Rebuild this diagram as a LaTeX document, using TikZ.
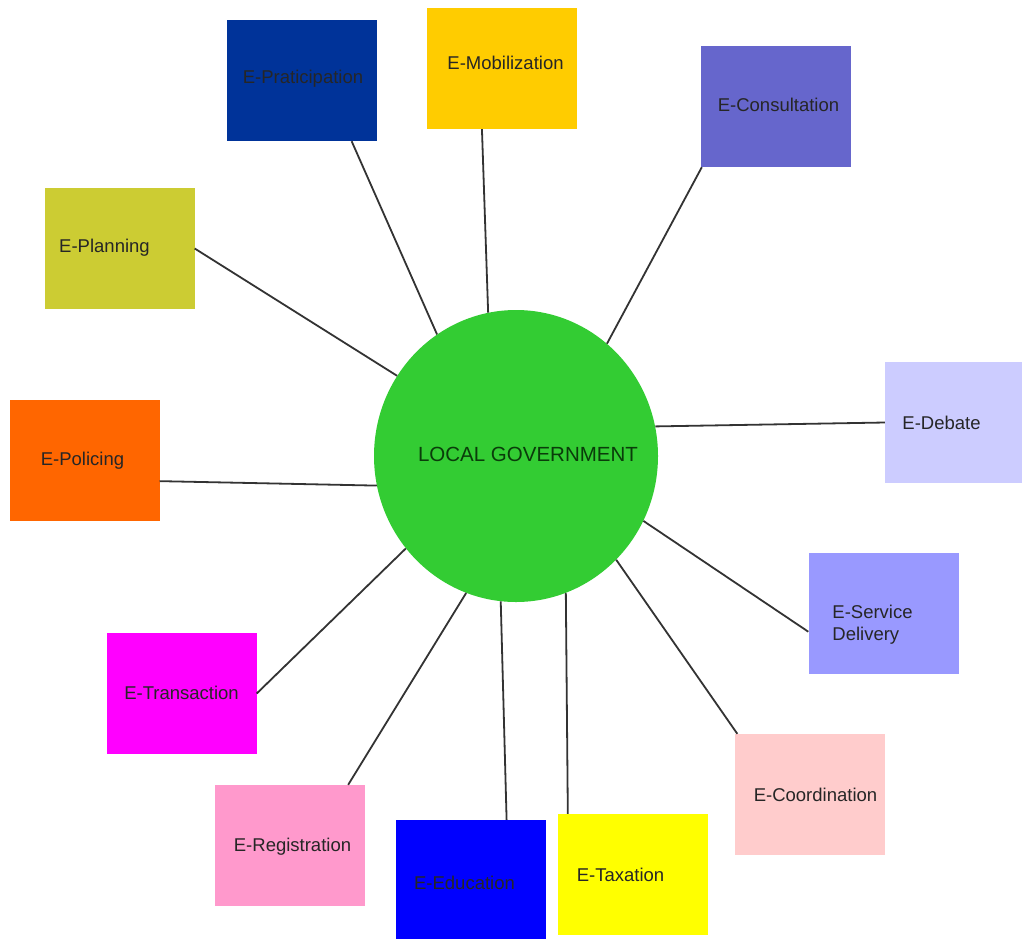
\documentclass[tikz,border=0pt]{standalone}
\usepackage{fontspec}
\setmainfont{Liberation Sans}
\usetikzlibrary{shapes.geometric,calc}
\begin{document}
\begin{tikzpicture}[x=1pt,y=-1pt,
  ebox/.style={rectangle,minimum width=150pt,minimum height=121pt,inner sep=0pt,draw=none},
  etext/.style={font=\fontsize{18.5}{21}\selectfont,text=black!85},
  conn/.style={draw=black!80,line width=1.8pt}]
\useasboundingbox (0,0) rectangle (1022,938);
\fill[white] (0,0) rectangle (1022,938);
% centre
\node[ellipse,fill={rgb,255:red,51;green,204;blue,51},minimum width=284pt,minimum height=292pt,inner sep=0pt,
  label={[etext,font=\fontsize{20.5}{23}\selectfont,text={rgb,255:red,10;green,60;blue,10},shift={(12,-2)}]center:LOCAL GOVERNMENT}] (c) at (516,456) {};
% boxes
\node[ebox,fill={rgb,255:red,0;green,51;blue,153},label={[etext,shift={(1,-2)}]center:E-Praticipation}] (par) at (302,80.5) {};
\node[ebox,fill={rgb,255:red,255;green,204;blue,0},label={[etext,shift={(4,-6)}]center:E-Mobilization}] (mob) at (501.5,68.5) {};
\node[ebox,fill={rgb,255:red,102;green,102;blue,204},label={[etext,shift={(3,-2)}]center:E-Consultation}] (con) at (775.5,106.5) {};
\node[ebox,fill={rgb,255:red,204;green,204;blue,51},label={[etext,shift={(-15,-1)}]center:E-Planning}] (pla) at (119.5,248.5) {};
\node[ebox,fill={rgb,255:red,255;green,102;blue,0},label={[etext,shift={(-2,0)}]center:E-Policing}] (pol) at (84.5,460.5) {};
\node[ebox,minimum width=137pt,fill={rgb,255:red,204;green,204;blue,255},label={[etext,shift={(-12,0)}]center:E-Debate}] (deb) at (953.5,422.5) {};
\node[ebox,fill={rgb,255:red,153;green,153;blue,255},label={[etext,align=left,shift={(-11,11)},font=\fontsize{18.5}{22}\selectfont]center:E-Service\\Delivery}] (ser) at (883.5,613.5) {};
\node[ebox,fill={rgb,255:red,255;green,204;blue,204},label={[etext,shift={(6,0)}]center:E-Coordination}] (coo) at (809.5,794.5) {};
\node[ebox,fill={rgb,255:red,255;green,255;blue,0},label={[etext,shift={(-12,0)}]center:E-Taxation}] (tax) at (632.5,874.5) {};
\node[ebox,fill={rgb,255:red,0;green,0;blue,255},label={[etext,shift={(-6,2)}]center:E-Education}] (edu) at (470.5,880.5) {};
\node[ebox,fill={rgb,255:red,255;green,153;blue,204},label={[etext,shift={(3,1)}]center:E-Registration}] (reg) at (289.5,845.5) {};
\node[ebox,fill={rgb,255:red,255;green,0;blue,255},label={[etext,shift={(0,-1)}]center:E-Transaction}] (tra) at (181.5,693.5) {};
% connectors
\draw[conn] ($(par.south west)!0.83!(par.south east)$) -- (c.123);
\draw[conn] ($(mob.south west)!0.37!(mob.south east)$) -- (c.101);
\draw[conn] ($(con.south west)!0.01!(con.south east)$) -- (c.51);
\draw[conn] (pla.east) -- (c.146);
\draw[conn] ($(pol.north east)!0.67!(pol.south east)$) -- (c.192);
\draw[conn] (deb.west) -- (c.12);
\draw[conn] ($(ser.north west)!0.65!(ser.south west)$) -- (c.-27);
\draw[conn] ($(coo.north west)!0.02!(coo.north east)$) -- (c.-46);
\draw[conn] ($(tax.north west)!0.07!(tax.north east)$) -- (c.-70);
\draw[conn] ($(edu.north west)!0.74!(edu.north east)$) -- (c.-96);
\draw[conn] ($(reg.north west)!0.89!(reg.north east)$) -- (c.-110);
\draw[conn] (tra.east) -- (c.220);
\end{tikzpicture}
\end{document}
